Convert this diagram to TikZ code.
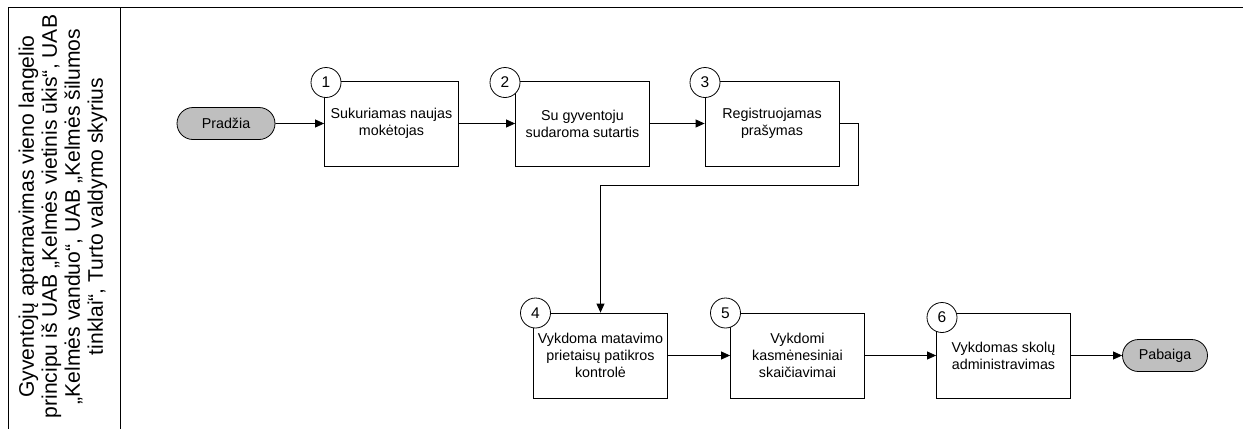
\documentclass[tikz,border=0pt]{standalone}
\usepackage{fontspec}
\setmainfont{Liberation Sans}
\usetikzlibrary{shapes.misc,arrows.meta}

\begin{document}
\begin{tikzpicture}[x=1pt,y=-1pt,
  step_box/.style={rectangle,draw,fill=white,line width=0.8pt,minimum width=134pt,minimum height=85pt,inner sep=0pt,align=center,font=\fontsize{14.3}{17}\selectfont},
  num_node/.style={circle,draw,fill=white,line width=0.8pt,minimum size=30pt,inner sep=0pt,font=\fontsize{15.5}{17}\selectfont},
  end_node/.style={rounded rectangle,draw,fill=black!25,line width=0.8pt,minimum height=32pt,inner sep=0pt,font=\fontsize{14.3}{17}\selectfont},
  flow/.style={-{Triangle[length=9pt,width=8pt]},line width=0.8pt}]

    \useasboundingbox (0,0) rectangle (1243,429);

    \draw[line width=1pt] (1243,7.5) -- (8.5,7.5) -- (8.5,429);
    \draw[line width=1pt] (120,7.5) -- (120,429);
    \node[rotate=90,align=center,font=\fontsize{21.1}{23}\selectfont] (lane) at (63,216.5)
        {Gyventojų aptarnavimas vieno langelio\\principu iš UAB „Kelmės vietinis ūkis“, UAB\\„Kelmės vanduo“, UAB „Kelmės šilumos\\tinklai“, Turto valdymo skyrius};

    \node[end_node, minimum width=98pt] (start) at (226,123.5) {Pradžia};
    \node[step_box] (s1) at (391.5,123.5) {Sukuriamas naujas\\mokėtojas};
    \node[step_box] (s2) at (582.5,123.5) {Su gyventoju\\sudaroma sutartis};
    \node[step_box] (s3) at (772,123.5) {Registruojamas\\prašymas};
    \node[step_box] (s4) at (600.5,355.5) {Vykdoma matavimo\\prietaisų patikros\\kontrolė};
    \node[step_box] (s5) at (797.5,355.5) {Vykdomi\\kasmėnesiniai\\skaičiavimai};
    \node[step_box] (s6) at (1003.5,355.5) {Vykdomas skolų\\administravimas};
    \node[end_node, minimum width=85pt] (stop) at (1165,355.5) {Pabaiga};

    \node[num_node] (n1) at (326,82.5) {1};
    \node[num_node] (n2) at (505,82.5) {2};
    \node[num_node] (n3) at (705,82.5) {3};
    \node[num_node] (n4) at (535.5,313) {4};
    \node[num_node] (n5) at (725.5,313) {5};
    \node[num_node] (n6) at (942,317.5) {6};

    \coordinate (bend) at (858,185);

    \draw[flow] (start) -- (s1);
    \draw[flow] (s1) -- (s2);
    \draw[flow] (s2) -- (s3);
    \draw[flow] (s3.east) -| (bend) -| (s4.north);
    \draw[flow] (s4) -- (s5);
    \draw[flow] (s5) -- (s6);
    \draw[flow] (s6) -- (stop);

\end{tikzpicture}
\end{document}
